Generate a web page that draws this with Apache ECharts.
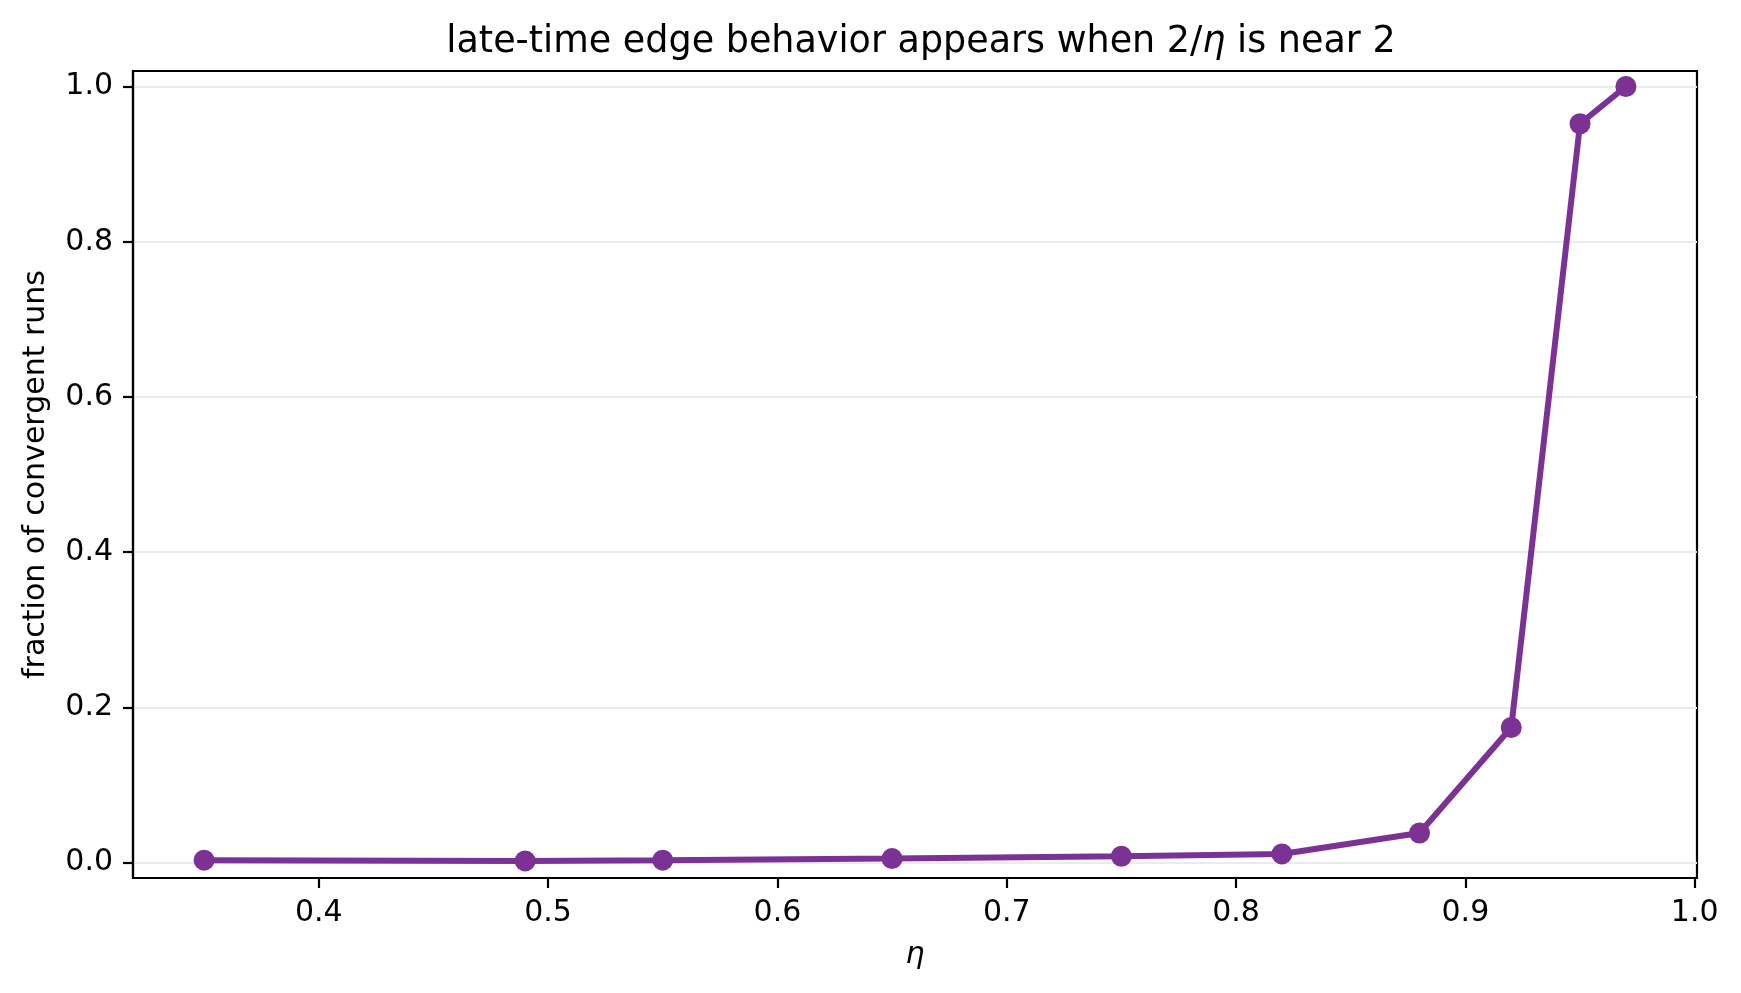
<!DOCTYPE html>
<html>
<head>
<meta charset="utf-8">
<script src="https://cdn.jsdelivr.net/npm/echarts@6/dist/echarts.min.js"></script>
<style>
  html, body { margin: 0; padding: 0; background: #fff; }
  #chart { width: 1741px; height: 993px; }
</style>
</head>
<body>
<div id="chart"></div>
<script>
// step size eta and fraction of runs that converged
const etaValues = [0.35, 0.49, 0.55, 0.65, 0.75, 0.82, 0.88, 0.92, 0.95, 0.97];
const convergedFraction = [0.003, 0.002, 0.003, 0.005, 0.008, 0.011, 0.038, 0.174, 0.952, 1.0];
const xTicks = [0.4, 0.5, 0.6, 0.7, 0.8, 0.9, 1.0];
const yTicks = [0.0, 0.2, 0.4, 0.6, 0.8, 1.0];

const purple = '#7b3294';
const font = 'DejaVu Sans';

let chart = echarts.init(document.getElementById('chart'), null, { renderer: 'canvas' });

let points = etaValues.map((x, i) => [x, convergedFraction[i]]);

let option = {
  animation: false,
  backgroundColor: '#fff',
  title: {
    text: '{n|late-time edge behavior appears when 2/}{i|η}{n| is near 2}',
    left: 916,
    top: 19,
    textAlign: 'center',
    textStyle: {
      rich: {
        n: { fontFamily: font, fontSize: 36.5, fontWeight: 'normal', color: '#000' },
        i: { fontFamily: font, fontSize: 36.5, fontWeight: 'normal', fontStyle: 'italic', color: '#000' }
      }
    }
  },
  grid: {
    left: 133,
    right: 44,
    top: 71,
    bottom: 115,
    show: true,
    borderColor: '#000',
    borderWidth: 2.2,
    backgroundColor: 'transparent'
  },
  xAxis: {
    type: 'value',
    min: 0.319,
    max: 1.001,
    name: 'η',
    nameLocation: 'middle',
    nameGap: 62,
    nameTextStyle: { fontFamily: font, fontSize: 30, fontStyle: 'italic', color: '#000' },
    axisLine: { show: true, onZero: false, lineStyle: { color: '#000', width: 2.2 } },
    axisTick: { show: true, inside: false, length: 10, lineStyle: { color: '#000', width: 2.2 }, customValues: xTicks },
    axisLabel: {
      fontFamily: font, fontSize: 30, color: '#000', margin: 20,
      customValues: xTicks,
      formatter: v => v.toFixed(1)
    },
    splitLine: { show: false }
  },
  yAxis: {
    type: 'value',
    min: -0.02,
    max: 1.02,
    name: 'fraction of convergent runs',
    nameLocation: 'middle',
    nameGap: 82,
    nameTextStyle: { fontFamily: font, fontSize: 30, color: '#000' },
    axisLine: { show: true, onZero: false, lineStyle: { color: '#000', width: 2.2 } },
    axisTick: { show: true, inside: false, length: 10, lineStyle: { color: '#000', width: 2.2 }, customValues: yTicks },
    axisLabel: {
      fontFamily: font, fontSize: 30, color: '#000', margin: 20,
      customValues: yTicks,
      formatter: v => v.toFixed(1)
    },
    splitLine: { show: true, lineStyle: { color: '#ebebeb', width: 2 } }
  },
  series: [
    {
      type: 'line',
      data: points,
      symbol: 'circle',
      symbolSize: 21,
      lineStyle: { color: purple, width: 6 },
      itemStyle: { color: purple },
      z: 3
    }
  ]
};
chart.setOption(option);
</script>
</body>
</html>
